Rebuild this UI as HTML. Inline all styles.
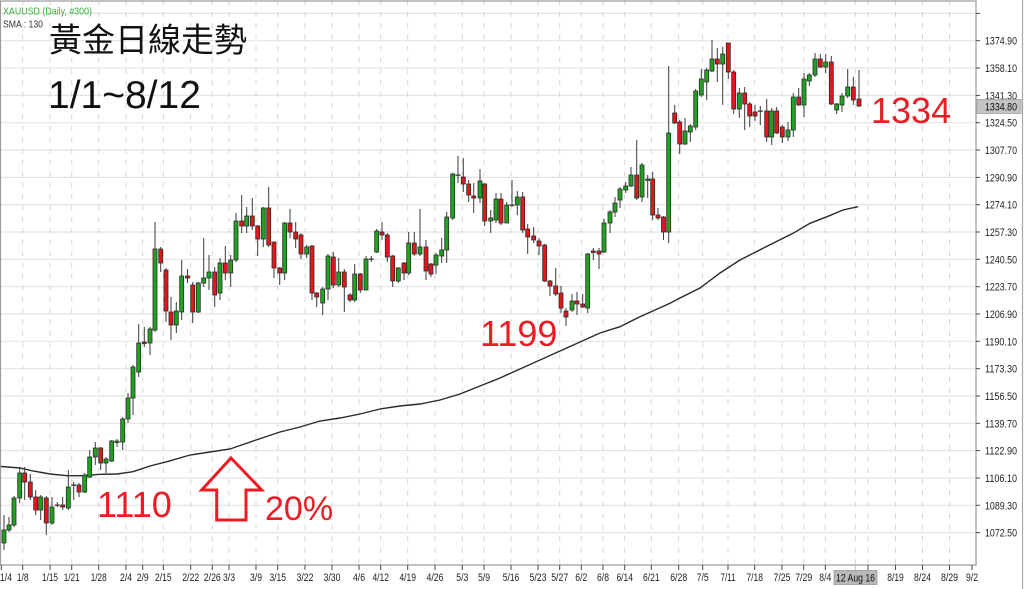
<!DOCTYPE html>
<html><head><meta charset="utf-8"><style>
html,body{margin:0;padding:0;background:#fff;}
svg{display:block;}
</style></head><body>
<svg width="1024" height="589" viewBox="0 0 1024 589" xmlns="http://www.w3.org/2000/svg" font-family="'Liberation Sans', sans-serif">
<rect x="0" y="0" width="1024" height="589" fill="#fff"/>
<!-- horizontal gridlines -->
<g stroke="#e4e4e4" stroke-width="1.2">
<line x1="1" y1="13.4" x2="976" y2="13.4"/>
<line x1="1" y1="40.7" x2="976" y2="40.7"/>
<line x1="1" y1="68.0" x2="976" y2="68.0"/>
<line x1="1" y1="95.4" x2="976" y2="95.4"/>
<line x1="1" y1="122.7" x2="976" y2="122.7"/>
<line x1="1" y1="150.0" x2="976" y2="150.0"/>
<line x1="1" y1="177.4" x2="976" y2="177.4"/>
<line x1="1" y1="204.7" x2="976" y2="204.7"/>
<line x1="1" y1="232.0" x2="976" y2="232.0"/>
<line x1="1" y1="259.3" x2="976" y2="259.3"/>
<line x1="1" y1="286.7" x2="976" y2="286.7"/>
<line x1="1" y1="314.0" x2="976" y2="314.0"/>
<line x1="1" y1="341.3" x2="976" y2="341.3"/>
<line x1="1" y1="368.7" x2="976" y2="368.7"/>
<line x1="1" y1="396.0" x2="976" y2="396.0"/>
<line x1="1" y1="423.3" x2="976" y2="423.3"/>
<line x1="1" y1="450.6" x2="976" y2="450.6"/>
<line x1="1" y1="478.0" x2="976" y2="478.0"/>
<line x1="1" y1="505.3" x2="976" y2="505.3"/>
<line x1="1" y1="532.6" x2="976" y2="532.6"/>
</g>
<!-- vertical dashed gridlines -->
<g stroke="#d6d6d6" stroke-width="1" stroke-dasharray="5 6.4">
<line x1="22.7" y1="0.3" x2="22.7" y2="565"/>
<line x1="50" y1="0.3" x2="50" y2="565"/>
<line x1="71.7" y1="0.3" x2="71.7" y2="565"/>
<line x1="98.7" y1="0.3" x2="98.7" y2="565"/>
<line x1="126" y1="0.3" x2="126" y2="565"/>
<line x1="142.7" y1="0.3" x2="142.7" y2="565"/>
<line x1="163.3" y1="0.3" x2="163.3" y2="565"/>
<line x1="190.7" y1="0.3" x2="190.7" y2="565"/>
<line x1="212.3" y1="0.3" x2="212.3" y2="565"/>
<line x1="229" y1="0.3" x2="229" y2="565"/>
<line x1="256" y1="0.3" x2="256" y2="565"/>
<line x1="277.7" y1="0.3" x2="277.7" y2="565"/>
<line x1="305" y1="0.3" x2="305" y2="565"/>
<line x1="332" y1="0.3" x2="332" y2="565"/>
<line x1="359" y1="0.3" x2="359" y2="565"/>
<line x1="380.7" y1="0.3" x2="380.7" y2="565"/>
<line x1="407.7" y1="0.3" x2="407.7" y2="565"/>
<line x1="435" y1="0.3" x2="435" y2="565"/>
<line x1="462.3" y1="0.3" x2="462.3" y2="565"/>
<line x1="484" y1="0.3" x2="484" y2="565"/>
<line x1="511" y1="0.3" x2="511" y2="565"/>
<line x1="538" y1="0.3" x2="538" y2="565"/>
<line x1="559.7" y1="0.3" x2="559.7" y2="565"/>
<line x1="581.3" y1="0.3" x2="581.3" y2="565"/>
<line x1="603" y1="0.3" x2="603" y2="565"/>
<line x1="624.7" y1="0.3" x2="624.7" y2="565"/>
<line x1="651.3" y1="0.3" x2="651.3" y2="565"/>
<line x1="678.7" y1="0.3" x2="678.7" y2="565"/>
<line x1="702.7" y1="0.3" x2="702.7" y2="565"/>
<line x1="728" y1="0.3" x2="728" y2="565"/>
<line x1="754.7" y1="0.3" x2="754.7" y2="565"/>
<line x1="782" y1="0.3" x2="782" y2="565"/>
<line x1="803.7" y1="0.3" x2="803.7" y2="565"/>
<line x1="825.3" y1="0.3" x2="825.3" y2="565"/>
<line x1="855.3" y1="0.3" x2="855.3" y2="565"/>
<line x1="868" y1="0.3" x2="868" y2="565"/>
<line x1="895.5" y1="0.3" x2="895.5" y2="565"/>
<line x1="922.5" y1="0.3" x2="922.5" y2="565"/>
<line x1="949.5" y1="0.3" x2="949.5" y2="565"/>
</g>
<!-- SMA -->
<polyline fill="none" stroke="#2a2a2a" stroke-width="1.4" points="1,466.5 20,468 33,471 50,474 67,475.7 83,475.7 100,474.3 117,474 133,471.7 150,466 167,461.7 190,455 210,452 230,449 256,440 280,432 300,427 320,421 340,418 360,414 380,409 400,406 420,404 440,400 460,394 480,386 500,378 520,369 540,360 560,351 580,342 600,333 620,326.7 640,316.7 670,303.3 680,298 700,288 720,273 740,260 763,248.3 793,233.3 810,223.3 827,216.7 843,210 858,206.7"/>
<!-- wicks -->
<path fill="none" stroke="#3a3a3a" stroke-width="1" d="M4 515V550M9 517V532M14 496V527M19.7 467V503M24.7 467V500M30.3 474V500M35.7 490V515M40.7 495V520M46.3 496V535M52 497V525M57.3 502V507M62.7 497V510M68.3 470V510M73.7 482V500M79 483V497M84.7 473V493M89.7 450V478M95.3 442V465M100.7 447V470M106 457V473M111.7 440V462M117 439V447M122.7 417V450M128 393V423M133 365V415M138.7 324V377M144.3 327V347M150 327V355M155 222V332M160.7 247V272M166 268V322M171 297V340M176.3 302V333M181.7 260V320M187.5 269V283M192.7 282V323M198.3 282V313M203.7 238V287M209 255V290M214.7 267V307M220 258V300M225.3 246V280M230.7 255V287M236 213V262M241.7 195V233M246.7 207V233M252.3 198V230M257.7 225V256M263.3 207V247M268.7 187V247M274 242V278M279.7 267V285M284.7 222V280M290 209V238M295.7 222V248M301 233V259M306.7 245V258M312 245V300M316.7 292V307M322.7 287V315M328 254V300M333.3 252V288M338.7 258V287M344.3 269V312M350 293V302M354.7 264V302M360.3 273V293M366 256V290M371.3 256V262M376.7 229V253M382 222V240M387.3 233V262M392.7 255V287M398.3 267V283M404 262V280M408.7 232V275M414.3 232V256M420 209V256M426 240V280M431 263V277M436 253V274M441.7 238V263M446.7 212V263M452.7 173V220M458 156V183M463.3 158V192M468.7 180V202M473.7 183V213M480 169V203M484.7 183V226M490.7 210V233M496 193V223M501 193V225M506.7 202V223M512 180V207M517.3 191V215M522.7 192V233M527.7 224V254M533.7 227V243M539 238V255M544.7 244V282M550 280V296M555.7 268V296M561 286V313M566 308V326M572 294V312M577 292V315M582.7 294V308M587.7 253V313M593.3 248V260M599 248V269M604 219V253M610 210V233M615 197V217M620 187V208M625.7 182V193M631 167V187M636.7 140V200M642 163V202M647.7 175V198M652.7 172V220M658 208V220M663.5 216V240M668.7 66V243M674.7 105V124M679.7 120V154M685 118V145M690.3 124V142M695.7 89V130M701.3 69V97M706.7 68V100M712 40V72M717.3 48V82M722.7 47V105M728.3 43V79M733.7 70V114M739.3 88V118M744.7 87V130M749.7 102V127M755 105V121M760.3 106V125M766.7 99V142M771.7 108V145M776.7 107V134M782.3 125V143M788 122V141M793.3 93V137M798.7 88V106M804 73V117M809.3 73V86M815 53V77M820.3 54V68M825.7 54V73M831.3 56V105M836.7 103V114M842 93V112M847.7 69V98M853.3 77V105M859 70V107"/>
<!-- green bodies -->
<g fill="#1fa21f" stroke="#2b2b2b" stroke-width="0.8">
<rect x="2" y="530" width="4" height="13"/>
<rect x="7" y="525" width="4" height="5"/>
<rect x="12" y="498" width="4" height="27"/>
<rect x="17.7" y="473" width="4" height="25"/>
<rect x="38.7" y="497" width="4" height="13"/>
<rect x="50" y="507" width="4" height="16"/>
<rect x="66.3" y="487" width="4" height="21"/>
<rect x="82.7" y="475" width="4" height="17"/>
<rect x="87.7" y="457" width="4" height="20"/>
<rect x="93.3" y="448" width="4" height="9"/>
<rect x="104" y="459" width="4" height="4"/>
<rect x="109.7" y="441" width="4" height="20"/>
<rect x="115" y="441" width="4" height="1.5"/>
<rect x="120.7" y="419" width="4" height="23"/>
<rect x="126" y="398" width="4" height="21"/>
<rect x="131" y="367" width="4" height="31"/>
<rect x="136.7" y="343" width="4" height="29"/>
<rect x="148" y="329" width="4" height="14"/>
<rect x="153" y="249" width="4" height="81"/>
<rect x="174.3" y="311" width="4" height="14"/>
<rect x="179.7" y="276" width="4" height="36"/>
<rect x="196.3" y="283" width="4" height="29"/>
<rect x="201.7" y="278" width="4" height="5"/>
<rect x="207" y="272" width="4" height="6"/>
<rect x="218" y="263" width="4" height="30"/>
<rect x="228.7" y="260" width="4" height="13"/>
<rect x="234" y="221" width="4" height="39"/>
<rect x="244.7" y="216" width="4" height="10"/>
<rect x="261.3" y="208" width="4" height="31"/>
<rect x="282.7" y="223" width="4" height="50"/>
<rect x="304.7" y="247" width="4" height="7"/>
<rect x="320.7" y="289" width="4" height="14"/>
<rect x="326" y="256" width="4" height="33"/>
<rect x="336.7" y="272" width="4" height="13"/>
<rect x="352.7" y="274" width="4" height="26"/>
<rect x="364" y="259" width="4" height="31"/>
<rect x="374.7" y="231" width="4" height="21"/>
<rect x="396.3" y="268" width="4" height="13"/>
<rect x="406.7" y="243" width="4" height="30"/>
<rect x="418" y="247" width="4" height="7"/>
<rect x="434" y="255" width="4" height="10"/>
<rect x="439.7" y="250" width="4" height="6"/>
<rect x="444.7" y="217" width="4" height="33"/>
<rect x="450.7" y="174" width="4" height="44"/>
<rect x="478" y="181" width="4" height="17"/>
<rect x="488.7" y="218" width="4" height="3"/>
<rect x="494" y="199" width="4" height="21"/>
<rect x="504.7" y="205" width="4" height="18"/>
<rect x="515.3" y="197" width="4" height="8"/>
<rect x="570" y="301" width="4" height="9"/>
<rect x="585.7" y="254" width="4" height="54"/>
<rect x="602" y="223" width="4" height="29"/>
<rect x="608" y="212" width="4" height="11"/>
<rect x="613" y="203" width="4" height="9"/>
<rect x="618" y="189" width="4" height="11"/>
<rect x="623.7" y="186" width="4" height="4"/>
<rect x="629" y="175" width="4" height="11"/>
<rect x="640" y="165" width="4" height="32"/>
<rect x="645.7" y="179" width="4" height="1.5"/>
<rect x="666.7" y="133" width="4" height="99"/>
<rect x="683" y="131" width="4" height="13"/>
<rect x="688.3" y="126" width="4" height="6"/>
<rect x="693.7" y="91" width="4" height="36"/>
<rect x="699.3" y="79" width="4" height="16"/>
<rect x="704.7" y="70" width="4" height="12"/>
<rect x="710" y="59" width="4" height="12"/>
<rect x="720.7" y="54" width="4" height="10"/>
<rect x="737.3" y="93" width="4" height="16"/>
<rect x="769.7" y="111" width="4" height="26"/>
<rect x="786" y="130" width="4" height="7"/>
<rect x="791.3" y="97" width="4" height="33"/>
<rect x="802" y="79" width="4" height="26"/>
<rect x="807.3" y="75" width="4" height="6"/>
<rect x="813" y="59" width="4" height="16"/>
<rect x="823.7" y="62" width="4" height="5"/>
<rect x="834.7" y="104" width="4" height="6"/>
<rect x="840" y="96" width="4" height="9"/>
<rect x="845.7" y="87" width="4" height="9"/>
</g>
<!-- red bodies -->
<g fill="#e3161c" stroke="#2b2b2b" stroke-width="0.8">
<rect x="22.7" y="473" width="4" height="9"/>
<rect x="28.3" y="482" width="4" height="15"/>
<rect x="33.7" y="497" width="4" height="13"/>
<rect x="44.3" y="498" width="4" height="25"/>
<rect x="60.7" y="505" width="4" height="2"/>
<rect x="77" y="485" width="4" height="7"/>
<rect x="98.7" y="448" width="4" height="15"/>
<rect x="142.3" y="342" width="4" height="1.5"/>
<rect x="158.7" y="249" width="4" height="14"/>
<rect x="164" y="270" width="4" height="41"/>
<rect x="169" y="312" width="4" height="13"/>
<rect x="185.5" y="276" width="4" height="2"/>
<rect x="190.7" y="285" width="4" height="27"/>
<rect x="212.7" y="272" width="4" height="23"/>
<rect x="223.3" y="263" width="4" height="10"/>
<rect x="239.7" y="221" width="4" height="5"/>
<rect x="250.3" y="216" width="4" height="10"/>
<rect x="255.7" y="226" width="4" height="13"/>
<rect x="266.7" y="208" width="4" height="37"/>
<rect x="272" y="242" width="4" height="26"/>
<rect x="277.7" y="268" width="4" height="5"/>
<rect x="288" y="223" width="4" height="9"/>
<rect x="293.7" y="232" width="4" height="7"/>
<rect x="299" y="235" width="4" height="19"/>
<rect x="310" y="246" width="4" height="47"/>
<rect x="314.7" y="293" width="4" height="4"/>
<rect x="331.3" y="257" width="4" height="28"/>
<rect x="342.3" y="272" width="4" height="15"/>
<rect x="348" y="295" width="4" height="5"/>
<rect x="358.3" y="274" width="4" height="16"/>
<rect x="380" y="232" width="4" height="3"/>
<rect x="385.3" y="235" width="4" height="22"/>
<rect x="390.7" y="256" width="4" height="25"/>
<rect x="402" y="263" width="4" height="10"/>
<rect x="412.3" y="243" width="4" height="11"/>
<rect x="424" y="247" width="4" height="24"/>
<rect x="429" y="264" width="4" height="10"/>
<rect x="461.3" y="177" width="4" height="7"/>
<rect x="466.7" y="184" width="4" height="11"/>
<rect x="471.7" y="196" width="4" height="2"/>
<rect x="482.7" y="184" width="4" height="37"/>
<rect x="499" y="199" width="4" height="24"/>
<rect x="520.7" y="197" width="4" height="33"/>
<rect x="525.7" y="229" width="4" height="8"/>
<rect x="531.7" y="236" width="4" height="4"/>
<rect x="537" y="241" width="4" height="5"/>
<rect x="542.7" y="245" width="4" height="36"/>
<rect x="548" y="281" width="4" height="5"/>
<rect x="553.7" y="286" width="4" height="8"/>
<rect x="559" y="293" width="4" height="15"/>
<rect x="564" y="311" width="4" height="6"/>
<rect x="575" y="301" width="4" height="3"/>
<rect x="580.7" y="304" width="4" height="3"/>
<rect x="591.3" y="251" width="4" height="1.5"/>
<rect x="597" y="251" width="4" height="3"/>
<rect x="634.7" y="175" width="4" height="23"/>
<rect x="650.7" y="179" width="4" height="36"/>
<rect x="656" y="215" width="4" height="3"/>
<rect x="661.5" y="217" width="4" height="15"/>
<rect x="672.7" y="113" width="4" height="10"/>
<rect x="677.7" y="122" width="4" height="22"/>
<rect x="715.3" y="59" width="4" height="5"/>
<rect x="726.3" y="43" width="4" height="29"/>
<rect x="731.7" y="72" width="4" height="37"/>
<rect x="742.7" y="93" width="4" height="11"/>
<rect x="747.7" y="104" width="4" height="12"/>
<rect x="753" y="112" width="4" height="4"/>
<rect x="764.7" y="111" width="4" height="26"/>
<rect x="774.7" y="111" width="4" height="22"/>
<rect x="780.3" y="127" width="4" height="10"/>
<rect x="796.7" y="97" width="4" height="8"/>
<rect x="818.3" y="59" width="4" height="8"/>
<rect x="829.3" y="62" width="4" height="42"/>
<rect x="851.3" y="87" width="4" height="13"/>
<rect x="857" y="99" width="4" height="7"/>
</g>
<!-- dojis -->
<g fill="#333">
<rect x="54.8" y="504.5" width="5" height="1.3"/>
<rect x="71.2" y="484.5" width="5" height="1.3"/>
<rect x="368.8" y="258.5" width="5" height="1.3"/>
<rect x="455.5" y="174.5" width="5" height="1.3"/>
<rect x="509.5" y="204.5" width="5" height="1.3"/>
<rect x="757.8" y="110.5" width="5" height="1.3"/>
</g>
<!-- plot frame -->
<rect x="0.5" y="1" width="975.5" height="564" fill="none" stroke="#9a9a9a" stroke-width="1.2"/>
<line x1="1022.5" y1="0" x2="1022.5" y2="589" stroke="#a8a8a8" stroke-width="1.2"/>
<!-- y ticks -->
<g stroke="#444" stroke-width="1">
<line x1="976" y1="13.4" x2="980" y2="13.4"/>
<line x1="976" y1="40.7" x2="980" y2="40.7"/>
<line x1="976" y1="68.0" x2="980" y2="68.0"/>
<line x1="976" y1="95.4" x2="980" y2="95.4"/>
<line x1="976" y1="122.7" x2="980" y2="122.7"/>
<line x1="976" y1="150.0" x2="980" y2="150.0"/>
<line x1="976" y1="177.4" x2="980" y2="177.4"/>
<line x1="976" y1="204.7" x2="980" y2="204.7"/>
<line x1="976" y1="232.0" x2="980" y2="232.0"/>
<line x1="976" y1="259.3" x2="980" y2="259.3"/>
<line x1="976" y1="286.7" x2="980" y2="286.7"/>
<line x1="976" y1="314.0" x2="980" y2="314.0"/>
<line x1="976" y1="341.3" x2="980" y2="341.3"/>
<line x1="976" y1="368.7" x2="980" y2="368.7"/>
<line x1="976" y1="396.0" x2="980" y2="396.0"/>
<line x1="976" y1="423.3" x2="980" y2="423.3"/>
<line x1="976" y1="450.6" x2="980" y2="450.6"/>
<line x1="976" y1="478.0" x2="980" y2="478.0"/>
<line x1="976" y1="505.3" x2="980" y2="505.3"/>
<line x1="976" y1="532.6" x2="980" y2="532.6"/>
</g>
<!-- y labels -->
<g font-size="11" fill="#222">
<text x="985" y="44.7" textLength="32" lengthAdjust="spacingAndGlyphs">1374.90</text>
<text x="985" y="72.0" textLength="32" lengthAdjust="spacingAndGlyphs">1358.10</text>
<text x="985" y="99.4" textLength="32" lengthAdjust="spacingAndGlyphs">1341.30</text>
<text x="985" y="126.7" textLength="32" lengthAdjust="spacingAndGlyphs">1324.50</text>
<text x="985" y="154.0" textLength="32" lengthAdjust="spacingAndGlyphs">1307.70</text>
<text x="985" y="181.4" textLength="32" lengthAdjust="spacingAndGlyphs">1290.90</text>
<text x="985" y="208.7" textLength="32" lengthAdjust="spacingAndGlyphs">1274.10</text>
<text x="985" y="236.0" textLength="32" lengthAdjust="spacingAndGlyphs">1257.30</text>
<text x="985" y="263.3" textLength="32" lengthAdjust="spacingAndGlyphs">1240.50</text>
<text x="985" y="290.7" textLength="32" lengthAdjust="spacingAndGlyphs">1223.70</text>
<text x="985" y="318.0" textLength="32" lengthAdjust="spacingAndGlyphs">1206.90</text>
<text x="985" y="345.3" textLength="32" lengthAdjust="spacingAndGlyphs">1190.10</text>
<text x="985" y="372.7" textLength="32" lengthAdjust="spacingAndGlyphs">1173.30</text>
<text x="985" y="400.0" textLength="32" lengthAdjust="spacingAndGlyphs">1156.50</text>
<text x="985" y="427.3" textLength="32" lengthAdjust="spacingAndGlyphs">1139.70</text>
<text x="985" y="454.6" textLength="32" lengthAdjust="spacingAndGlyphs">1122.90</text>
<text x="985" y="482.0" textLength="32" lengthAdjust="spacingAndGlyphs">1106.10</text>
<text x="985" y="509.3" textLength="32" lengthAdjust="spacingAndGlyphs">1089.30</text>
<text x="985" y="536.6" textLength="32" lengthAdjust="spacingAndGlyphs">1072.50</text>
</g>
<!-- current price box -->
<rect x="977" y="99.5" width="44" height="14" fill="#c4c4c4" stroke="#a0a0a0" stroke-width="0.8"/>
<text x="985" y="110.5" font-size="11" fill="#111" textLength="32" lengthAdjust="spacingAndGlyphs">1334.80</text>
<!-- x ticks -->
<g stroke="#444" stroke-width="1">
<line x1="1.3" y1="565" x2="1.3" y2="570"/>
<line x1="22.7" y1="565" x2="22.7" y2="570"/>
<line x1="50" y1="565" x2="50" y2="570"/>
<line x1="71.7" y1="565" x2="71.7" y2="570"/>
<line x1="98.7" y1="565" x2="98.7" y2="570"/>
<line x1="126" y1="565" x2="126" y2="570"/>
<line x1="142.7" y1="565" x2="142.7" y2="570"/>
<line x1="163.3" y1="565" x2="163.3" y2="570"/>
<line x1="190.7" y1="565" x2="190.7" y2="570"/>
<line x1="212.3" y1="565" x2="212.3" y2="570"/>
<line x1="229" y1="565" x2="229" y2="570"/>
<line x1="256" y1="565" x2="256" y2="570"/>
<line x1="277.7" y1="565" x2="277.7" y2="570"/>
<line x1="305" y1="565" x2="305" y2="570"/>
<line x1="332" y1="565" x2="332" y2="570"/>
<line x1="359" y1="565" x2="359" y2="570"/>
<line x1="380.7" y1="565" x2="380.7" y2="570"/>
<line x1="407.7" y1="565" x2="407.7" y2="570"/>
<line x1="435" y1="565" x2="435" y2="570"/>
<line x1="462.3" y1="565" x2="462.3" y2="570"/>
<line x1="484" y1="565" x2="484" y2="570"/>
<line x1="511" y1="565" x2="511" y2="570"/>
<line x1="538" y1="565" x2="538" y2="570"/>
<line x1="559.7" y1="565" x2="559.7" y2="570"/>
<line x1="581.3" y1="565" x2="581.3" y2="570"/>
<line x1="603" y1="565" x2="603" y2="570"/>
<line x1="624.7" y1="565" x2="624.7" y2="570"/>
<line x1="651.3" y1="565" x2="651.3" y2="570"/>
<line x1="678.7" y1="565" x2="678.7" y2="570"/>
<line x1="702.7" y1="565" x2="702.7" y2="570"/>
<line x1="728" y1="565" x2="728" y2="570"/>
<line x1="754.7" y1="565" x2="754.7" y2="570"/>
<line x1="782" y1="565" x2="782" y2="570"/>
<line x1="803.7" y1="565" x2="803.7" y2="570"/>
<line x1="825.3" y1="565" x2="825.3" y2="570"/>
<line x1="868" y1="565" x2="868" y2="570"/>
<line x1="895.5" y1="565" x2="895.5" y2="570"/>
<line x1="922.5" y1="565" x2="922.5" y2="570"/>
<line x1="949.5" y1="565" x2="949.5" y2="570"/>
<line x1="972" y1="565" x2="972" y2="570"/>
</g>
<!-- x labels -->
<g font-size="11" fill="#222" text-anchor="middle">
<text x="0" y="581" text-anchor="start" textLength="12" lengthAdjust="spacingAndGlyphs">1/4</text>
<text x="22.7" y="581" textLength="12" lengthAdjust="spacingAndGlyphs">1/8</text>
<text x="50" y="581" textLength="16" lengthAdjust="spacingAndGlyphs">1/15</text>
<text x="71.7" y="581" textLength="16" lengthAdjust="spacingAndGlyphs">1/21</text>
<text x="98.7" y="581" textLength="16" lengthAdjust="spacingAndGlyphs">1/28</text>
<text x="126" y="581" textLength="12" lengthAdjust="spacingAndGlyphs">2/4</text>
<text x="142.7" y="581" textLength="12" lengthAdjust="spacingAndGlyphs">2/9</text>
<text x="163.3" y="581" textLength="16.5" lengthAdjust="spacingAndGlyphs">2/15</text>
<text x="190.7" y="581" textLength="17" lengthAdjust="spacingAndGlyphs">2/22</text>
<text x="212.3" y="581" textLength="17" lengthAdjust="spacingAndGlyphs">2/26</text>
<text x="229" y="581" textLength="12" lengthAdjust="spacingAndGlyphs">3/3</text>
<text x="256" y="581" textLength="12" lengthAdjust="spacingAndGlyphs">3/9</text>
<text x="277.7" y="581" textLength="16.5" lengthAdjust="spacingAndGlyphs">3/15</text>
<text x="305" y="581" textLength="17" lengthAdjust="spacingAndGlyphs">3/22</text>
<text x="332" y="581" textLength="17" lengthAdjust="spacingAndGlyphs">3/30</text>
<text x="359" y="581" textLength="12" lengthAdjust="spacingAndGlyphs">4/6</text>
<text x="380.7" y="581" textLength="16.5" lengthAdjust="spacingAndGlyphs">4/12</text>
<text x="407.7" y="581" textLength="16.5" lengthAdjust="spacingAndGlyphs">4/19</text>
<text x="435" y="581" textLength="17" lengthAdjust="spacingAndGlyphs">4/26</text>
<text x="462.3" y="581" textLength="12" lengthAdjust="spacingAndGlyphs">5/3</text>
<text x="484" y="581" textLength="12" lengthAdjust="spacingAndGlyphs">5/9</text>
<text x="511" y="581" textLength="16.5" lengthAdjust="spacingAndGlyphs">5/16</text>
<text x="538" y="581" textLength="17" lengthAdjust="spacingAndGlyphs">5/23</text>
<text x="559.7" y="581" textLength="17" lengthAdjust="spacingAndGlyphs">5/27</text>
<text x="581.3" y="581" textLength="12" lengthAdjust="spacingAndGlyphs">6/2</text>
<text x="603" y="581" textLength="12" lengthAdjust="spacingAndGlyphs">6/8</text>
<text x="624.7" y="581" textLength="16.5" lengthAdjust="spacingAndGlyphs">6/14</text>
<text x="651.3" y="581" textLength="16.5" lengthAdjust="spacingAndGlyphs">6/21</text>
<text x="678.7" y="581" textLength="17" lengthAdjust="spacingAndGlyphs">6/28</text>
<text x="702.7" y="581" textLength="12" lengthAdjust="spacingAndGlyphs">7/5</text>
<text x="728" y="581" textLength="15" lengthAdjust="spacingAndGlyphs">7/11</text>
<text x="754.7" y="581" textLength="16.5" lengthAdjust="spacingAndGlyphs">7/18</text>
<text x="782" y="581" textLength="17" lengthAdjust="spacingAndGlyphs">7/25</text>
<text x="803.7" y="581" textLength="17" lengthAdjust="spacingAndGlyphs">7/29</text>
<text x="825.3" y="581" textLength="12" lengthAdjust="spacingAndGlyphs">8/4</text>
<text x="868" y="581" textLength="16.5" lengthAdjust="spacingAndGlyphs">8/14</text>
<text x="895.5" y="581" textLength="16.5" lengthAdjust="spacingAndGlyphs">8/19</text>
<text x="922.5" y="581" textLength="17" lengthAdjust="spacingAndGlyphs">8/24</text>
<text x="949.5" y="581" textLength="17" lengthAdjust="spacingAndGlyphs">8/29</text>
<text x="972" y="581" textLength="12" lengthAdjust="spacingAndGlyphs">9/2</text>
</g>
<!-- current date box -->
<line x1="855.3" y1="565" x2="855.3" y2="571" stroke="#bbb" stroke-width="1"/>
<rect x="834" y="570.5" width="43" height="14" fill="#b8b8b8" stroke="#999" stroke-width="0.8"/>
<text x="855.5" y="581.5" font-size="11" fill="#111" text-anchor="middle" textLength="39" lengthAdjust="spacingAndGlyphs">12 Aug 16</text>
<!-- header labels -->
<text x="3" y="14.5" font-size="10.5" fill="#38b038" textLength="89" lengthAdjust="spacingAndGlyphs">XAUUSD (Daily, #300)</text>
<text x="3" y="27.5" font-size="10.5" fill="#333" textLength="40" lengthAdjust="spacingAndGlyphs">SMA : 130</text>
<!-- title overlays -->
<text x="49" y="51.5" font-size="33" fill="#111" font-family="'Liberation Sans','Noto Sans CJK TC',sans-serif">黃金日線走勢</text>
<text x="48" y="108" font-size="39" fill="#111">1/1~8/12</text>
<!-- red annotations -->
<g fill="#ec1c24" font-size="36">
<text x="97" y="517">1110</text>
<text x="480" y="346">1199</text>
<text x="871" y="123">1334</text>
<text x="265" y="520" font-size="34">20%</text>
</g>
<polygon points="231,458 261.7,490 246,490 246,520 216.7,520 216.7,490 201.7,490" fill="none" stroke="#ec1c24" stroke-width="3" stroke-linejoin="miter"/>
</svg>
</body></html>
